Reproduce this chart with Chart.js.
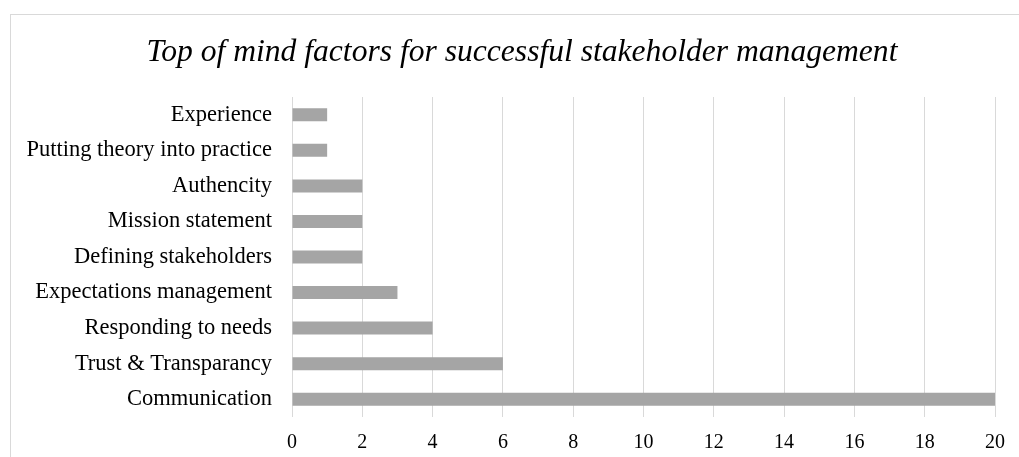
<!DOCTYPE html>
<html>
<head>
<meta charset="utf-8">
<script src="https://cdn.jsdelivr.net/npm/chart.js@4"></script>
<style>
  html, body { margin: 0; padding: 0; background: #fff; overflow: hidden; }
  #frame { position: absolute; left: 10px; top: 14px; width: 2000px; height: 1000px; border: 1px solid #d9d9d9; }
  #chart { position: absolute; left: 0; top: 0; }
</style>
</head>
<body>
<div id="frame"></div>
<canvas id="chart" width="1019" height="457"></canvas>
<script>
const categories = [
  'Experience',
  'Putting theory into practice',
  'Authencity',
  'Mission statement',
  'Defining stakeholders',
  'Expectations management',
  'Responding to needs',
  'Trust & Transparancy',
  'Communication'
];
const counts = [1, 1, 2, 2, 2, 3, 4, 6, 20];
const titleText = 'Top of mind factors for successful stakeholder management';

const serif = "'Liberation Serif', 'Times New Roman', serif";

// the original frame is wider than the picture, so its title sits right of centre
const shiftTitle = {
  id: 'shiftTitle',
  afterLayout(chart) {
    const t = chart.titleBlock;
    if (!t) return;
    const dx = 522 - (t.left + t.right) / 2;
    t.left += dx;
    t.right += dx;
  }
};

const ctx = document.getElementById('chart').getContext('2d');
new Chart(ctx, {
  type: 'bar',
  data: {
    labels: categories,
    datasets: [{
      data: counts,
      backgroundColor: '#a5a5a5',
      barPercentage: 0.366,
      categoryPercentage: 1
    }]
  },
  options: {
    indexAxis: 'y',
    responsive: false,
    animation: false,
    layout: { padding: { left: 0, right: 21.3, top: 0, bottom: 0 } },
    plugins: {
      legend: { display: false },
      tooltip: { enabled: false },
      title: {
        display: true,
        text: titleText,
        color: '#000',
        font: { family: serif, size: 31.6, style: 'italic', weight: 'normal' },
        padding: { top: 33.5, bottom: 25.6 }
      }
    },
    scales: {
      x: {
        min: 0,
        max: 20,
        ticks: { stepSize: 2, color: '#000', padding: 14, font: { family: serif, size: 20 } },
        grid: { color: '#d9d9d9', drawTicks: false },
        border: { display: false },
        afterFit: scale => { scale.height = 40; }
      },
      y: {
        ticks: { color: '#000', padding: 20, font: { family: serif, size: 22.5 } },
        grid: { display: false, drawTicks: false },
        border: { display: false },
        afterFit: scale => { scale.width = 292; }
      }
    }
  },
  plugins: [shiftTitle]
});
</script>
</body>
</html>
